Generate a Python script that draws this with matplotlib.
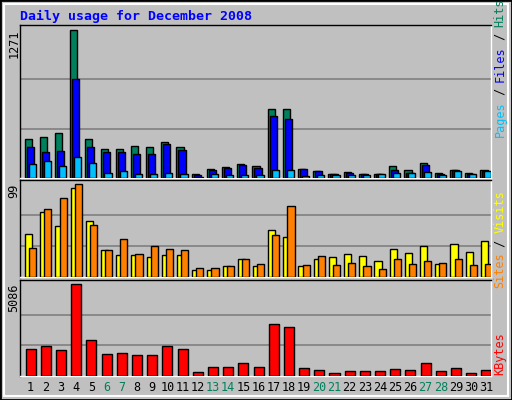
import matplotlib
matplotlib.use("Agg")
import matplotlib.pyplot as plt
from matplotlib.patches import Rectangle

days = list(range(1, 32))
hits = [339,348,383,1271,339,253,253,279,262,305,262,37,81,98,124,106,590,590,81,63,37,55,37,37,106,72,132,46,72,46,72]
files = [262,227,236,848,262,227,219,210,210,296,244,29,72,89,115,89,529,503,81,63,37,46,37,37,72,46,115,37,72,37,63]
pages = [124,150,106,184,132,46,63,37,37,46,37,12,37,29,29,29,72,72,20,29,29,29,29,37,46,46,55,29,63,37,63]
visits = [46,69,55,95,60,29,23,23,21,24,24,8,8,12,19,12,50,43,12,19,21,25,22,17,30,26,33,14,35,27,38]
sites = [31,73,85,99,56,29,41,25,33,30,29,10,10,12,19,14,45,76,13,22,13,15,12,9,19,14,17,15,19,13,14]
kbytes = [1522,1689,1466,5086,2023,1244,1299,1188,1188,1689,1522,241,520,520,742,520,2914,2747,464,353,186,297,297,297,408,353,742,297,464,186,353]
weekends = {6,7,13,14,20,21,27,28}

W, H = 512, 400
fig = plt.figure(figsize=(W/100, H/100), dpi=100)
fig.patch.set_facecolor("#C0C0C0")
mono = "DejaVu Sans Mono"
GREEN = "#00805C"

fig.add_artist(Rectangle((0, 0), 1, 1, transform=fig.transFigure, fill=False, ec="black", lw=2))
fig.add_artist(Rectangle((4/W, 4/H), 1-8/W, 1-8/H, transform=fig.transFigure, fill=False, ec="white", lw=1.5))

def ax_px(x0, y0, x1, y1):
    return fig.add_axes([x0/W, 1-y1/H, (x1-x0)/W, (y1-y0)/H])

def style(ax, top):
    ax.set_facecolor("#C0C0C0")
    ax.set_xlim(0, 31)
    ax.set_ylim(0, top)
    ax.set_xticks([]); ax.set_yticks([])
    for s in ax.spines.values():
        s.set_color("black"); s.set_linewidth(1)
    ax.spines["right"].set_color("white")
    ax.spines["bottom"].set_color("white")

x = list(range(31))
kw = dict(align="edge", edgecolor="black", linewidth=1, zorder=3)

ax1 = ax_px(20, 25, 491, 178)
style(ax1, 1271*153/148)
for g in (1271/3, 2*1271/3):
    ax1.axhline(g, color="#808080", lw=1.2, zorder=1)
ax1.bar([i+0.3 for i in x], hits, 0.47, color=GREEN, **kw)
ax1.bar([i+0.43 for i in x], files, 0.47, color="#0000FF", **kw)
ax1.bar([i+0.56 for i in x], pages, 0.47, color="#00C0FF", **kw)

ax2 = ax_px(20, 180, 491, 277)
style(ax2, 99*96.7/92.3)
for g in (33, 66):
    ax2.axhline(g, color="#808080", lw=1.2, zorder=1)
ax2.bar([i+0.33 for i in x], visits, 0.47, color="#FFFF00", **kw)
ax2.bar([i+0.6 for i in x], sites, 0.47, color="#FF8000", **kw)

ax3 = ax_px(20, 280, 491, 376)
style(ax3, 5086*95.7/91.3)
for g in (5086/3, 2*5086/3):
    ax3.axhline(g, color="#808080", lw=1.2, zorder=1)
ax3.bar([i+0.37 for i in x], kbytes, 0.66, color="#FF0000", **kw)

for i, d in enumerate(days):
    ax3.text(i+0.7, -0.12, str(d), transform=ax3.get_xaxis_transform(), ha="center", va="center",
             fontsize=8.5, family=mono, color=GREEN if d in weekends else "black")

fig.text(20/W, 1-16/H, "Daily usage for December 2008", color="#0000FF", fontsize=9.5,
         family=mono, fontweight="bold", va="center", ha="left")

for ytop, lab in ((29, "1271"), (184, "99"), (284, "5086")):
    fig.text(14/W, 1-ytop/H, lab, rotation=90, fontsize=8.5, family=mono, ha="center", va="top")

def vlabel(ybottom, parts):
    y = ybottom
    for txt, col in parts:
        fig.text(500/W, 1-y/H, txt, rotation=90, fontsize=8.5, family=mono, color=col,
                 ha="center", va="bottom")
        y -= len(txt) * 6.9

vlabel(137, [("Pages", "#00C0FF"), (" / ", "black"), ("Files", "#0000FF"), (" / ", "black"), ("Hits", GREEN)])
vlabel(288, [("Sites", "#FF8000"), (" / ", "black"), ("Visits", "#FFFF00")])
vlabel(375, [("KBytes", "#FF0000")])

fig.savefig("out.png", dpi=100, facecolor=fig.get_facecolor())
